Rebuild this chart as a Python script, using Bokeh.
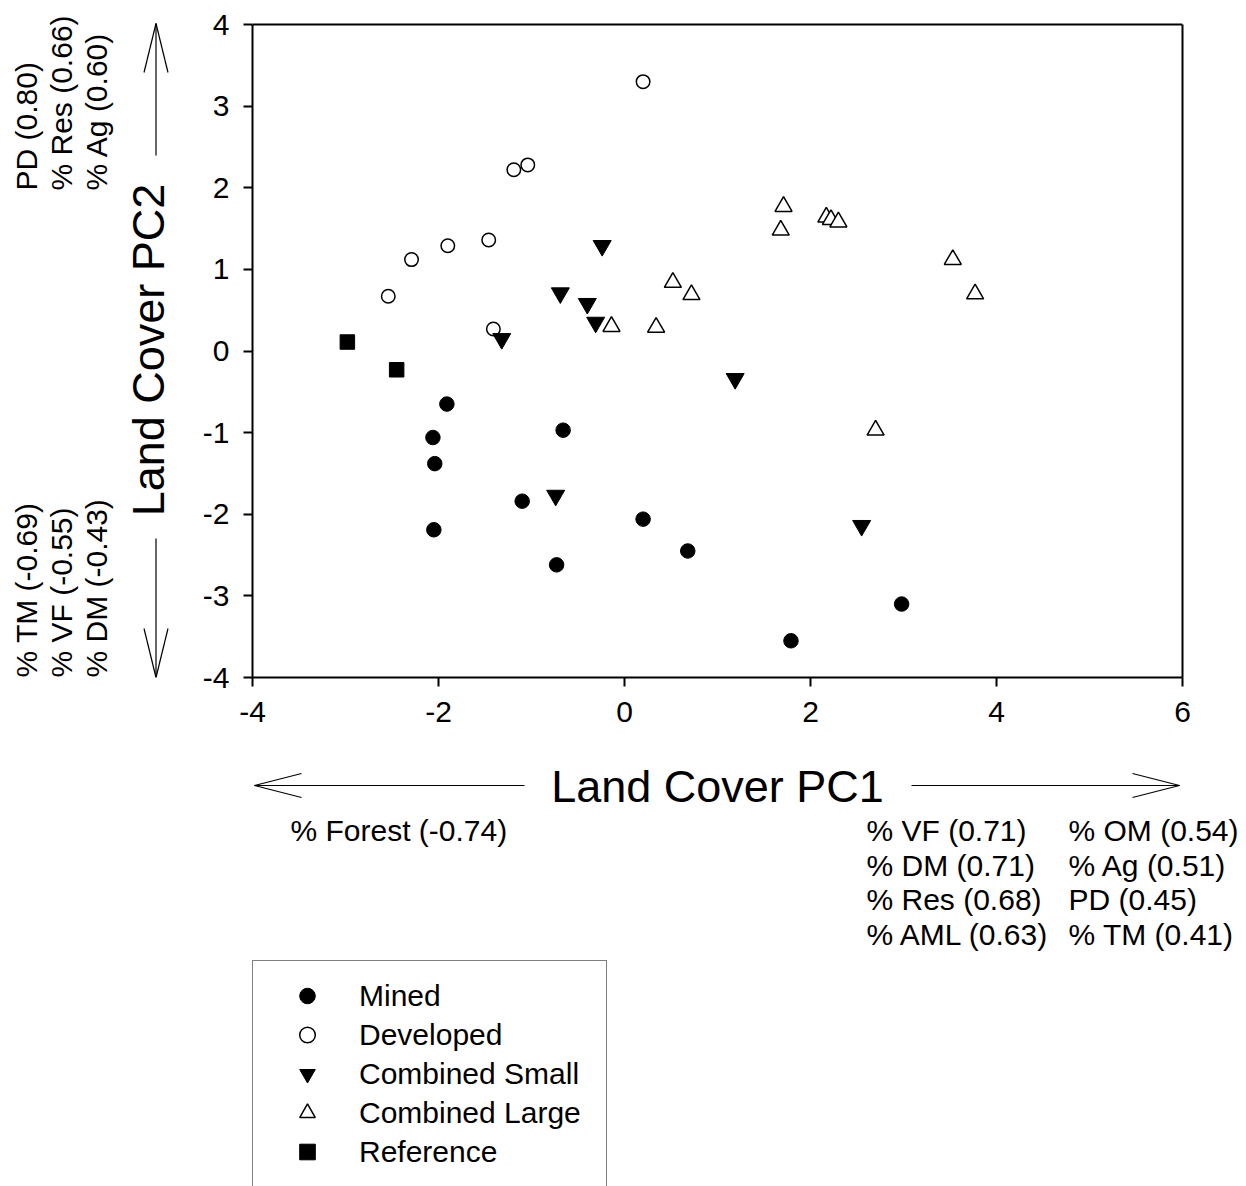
import math
from bokeh.plotting import figure
from bokeh.models import Range1d, FixedTicker, Legend, LegendItem, LinearAxis, Span
from bokeh.layouts import column, row
from bokeh.core.properties import value
from bokeh.embed import file_html
from bokeh.resources import INLINE

# ---------------- data ----------------
mined_x = [-1.91, -2.06, -2.04, -2.05, -0.66, -1.10, -0.73, 0.20, 0.68, 1.79, 2.98]
mined_y = [-0.65, -1.06, -1.38, -2.19, -0.97, -1.84, -2.62, -2.06, -2.45, -3.55, -3.10]

dev_x = [0.20, -1.19, -1.04, -1.46, -1.90, -2.29, -2.54, -1.41]
dev_y = [3.30, 2.22, 2.28, 1.36, 1.29, 1.12, 0.67, 0.27]

cs_x = [-0.24, -0.69, -0.40, -0.31, -1.32, 1.19, 2.55, -0.74]
cs_y = [1.29, 0.71, 0.58, 0.35, 0.15, -0.34, -2.14, -1.77]

cl_x = [-0.14, 0.34, 0.52, 0.72, 1.71, 1.68, 2.17, 2.22, 2.30, 3.53, 3.77, 2.70]
cl_y = [0.30, 0.29, 0.84, 0.69, 1.77, 1.48, 1.64, 1.61, 1.58, 1.12, 0.70, -0.97]

ref_x = [-2.98, -2.45]
ref_y = [0.11, -0.23]

x_ticks = [-4, -2, 0, 2, 4, 6]
y_ticks = [-4, -3, -2, -1, 0, 1, 2, 3, 4]

x_title = "Land Cover PC1"
y_title = "Land Cover PC2"
pc2_pos = ["PD (0.80)", "% Res (0.66)", "% Ag (0.60)"]
pc2_neg = ["% TM (-0.69)", "% VF (-0.55)", "% DM (-0.43)"]
pc1_neg = ["% Forest (-0.74)"]
pc1_pos_a = ["% VF (0.71)", "% DM (0.71)", "% Res (0.68)", "% AML (0.63)"]
pc1_pos_b = ["% OM (0.54)", "% Ag (0.51)", "PD (0.45)", "% TM (0.41)"]
legend_labels = ["Mined", "Developed", "Combined Small", "Combined Large", "Reference"]

FONT = "Liberation Sans"
W, H = 1246, 1186
LEFT_W = 190          # strip for the PC2 title / loadings
TOP_H = 745           # height of the upper row
FL, FR, FT, FB = 252, 1182, 24, 677   # plot box in page pixels

styles = [
    dict(marker="circle", size=14.5, fill_color="black", line_color="black", line_width=1),
    dict(marker="circle", size=13.5, fill_color="white", line_color="black", line_width=1.5),
    dict(marker="inverted_triangle", size=18, fill_color="black", line_color="black", line_width=1),
    dict(marker="triangle", size=17, fill_color="white", line_color="black", line_width=1.5),
    dict(marker="square", size=14.5, fill_color="black", line_color="black", line_width=1),
]
series = [(mined_x, mined_y), (dev_x, dev_y), (cs_x, cs_y), (cl_x, cl_y), (ref_x, ref_y)]


def blank(width, height, x0, x1, y0, y1, **kw):
    f = figure(width=width, height=height, output_backend="svg", toolbar_location=None,
               x_range=Range1d(x0, x1), y_range=Range1d(y1, y0),
               x_axis_type=None, y_axis_type=None, **kw)
    f.outline_line_color = None
    f.background_fill_color = "white"
    f.border_fill_color = "white"
    f.grid.visible = False
    return f


def txt(f, xs, ys, texts, size="30px", angle=0.0, align="left", baseline="alphabetic"):
    f.text(x=xs, y=ys, text=texts, angle=angle, text_font=value(FONT),
           text_font_size=value(size), text_color="black",
           text_align=align, text_baseline=baseline)


# ---------------- main chart ----------------
# frame spans page y 0..677; the y range is extended so that y=4 sits at page y=24
y_top = 4 + FT * 8.0 / (FB - FT)
p = figure(width=W - LEFT_W, height=TOP_H, output_backend="svg", toolbar_location=None,
           x_range=Range1d(-4, 6), y_range=Range1d(-4, y_top),
           min_border_left=FL - LEFT_W, min_border_right=W - FR,
           min_border_top=0, min_border_bottom=TOP_H - FB)
p.background_fill_color = "white"
p.border_fill_color = "white"
p.outline_line_color = None
p.grid.visible = False

for ax in (p.xaxis[0], p.yaxis[0]):
    ax.axis_line_color = "black"
    ax.axis_line_width = 2
    ax.major_tick_line_color = "black"
    ax.major_tick_line_width = 2
    ax.major_tick_out = 9
    ax.major_tick_in = 0
    ax.minor_tick_out = 0
    ax.minor_tick_in = 0
    ax.major_label_text_font = FONT
    ax.major_label_text_font_size = "30px"
    ax.major_label_text_color = "black"
p.xaxis[0].ticker = FixedTicker(ticks=x_ticks)
p.yaxis[0].ticker = FixedTicker(ticks=y_ticks)
p.yaxis[0].bounds = (-4, 4)
p.xaxis[0].major_label_overrides = {t: str(t) for t in x_ticks}
p.yaxis[0].major_label_overrides = {t: str(t) for t in y_ticks}
p.xaxis[0].major_label_standoff = 15
p.yaxis[0].major_label_standoff = 14

# box: right side as a bare axis line, top as a span at y = 4
p.add_layout(LinearAxis(ticker=FixedTicker(ticks=[]), bounds=(-4, 4), axis_line_width=2,
                        axis_line_color="black", major_tick_out=0, major_tick_in=0,
                        minor_tick_out=0, minor_tick_in=0), "right")
p.add_layout(Span(location=4, dimension="width", line_color="black", line_width=2))

for (sx, sy), st in zip(series, styles):
    p.scatter(sx, sy, **st)

# ---------------- left strip: PC2 title, arrows, loadings ----------------
lf = blank(LEFT_W, TOP_H, 0, LEFT_W, 0, FB,
           min_border_left=0, min_border_right=0, min_border_top=0,
           min_border_bottom=TOP_H - FB)
txt(lf, [148], [349.5], [y_title], size="45px", angle=math.pi / 2, align="center")
lf.segment(x0=[155.5, 155.5, 155.5, 155.5, 155.5, 155.5],
           y0=[155, 23, 23, 538, 677, 677],
           x1=[155.5, 143.5, 167.5, 155.5, 143.5, 167.5],
           y1=[23, 72, 72, 677, 628, 628],
           line_color="black", line_width=1.2)
col_x = [25.5, 60.5, 95.5]
txt(lf, col_x, [190] * 3, pc2_pos, angle=math.pi / 2)
txt(lf, col_x, [677] * 3, pc2_neg, angle=math.pi / 2)

# ---------------- bottom strip: PC1 title, arrows, loadings, legend ----------------
bf = blank(W, H - TOP_H, 0, W, TOP_H, H, min_border=0)
txt(bf, [717], [786], [x_title], size="45px", align="center")
bf.segment(x0=[254, 254, 254, 911, 1179, 1179],
           y0=[785, 785, 785, 785, 785, 785],
           x1=[524, 301, 301, 1179, 1132, 1132],
           y1=[785, 773, 797, 785, 773, 797],
           line_color="black", line_width=1.2)
rows_y = [830, 864.5, 899, 933.5]
txt(bf, [290], rows_y[:1], pc1_neg)
txt(bf, [866] * 4, rows_y, pc1_pos_a)
txt(bf, [1068] * 4, rows_y, pc1_pos_b)

# legend proxies (same data; they fall outside this strip's ranges, so only the legend shows them)
proxies = [bf.scatter(sx, sy, **st) for (sx, sy), st in zip(series, styles)]
legend = Legend(items=[LegendItem(label=lab, renderers=[r]) for lab, r in zip(legend_labels, proxies)],
                location=(FL, -1), orientation="vertical",
                glyph_height=39, glyph_width=78, label_height=39, label_width=232,
                label_standoff=13, padding=15, spacing=0, margin=0,
                label_text_font=FONT, label_text_font_size="30px",
                label_text_color="black",
                border_line_color="black", border_line_width=1.5,
                background_fill_color="white", background_fill_alpha=1.0)
bf.add_layout(legend, "center")

layout = column(row(lf, p, spacing=0), bf, spacing=0)
open("out.html", "w").write(file_html(layout, INLINE))
